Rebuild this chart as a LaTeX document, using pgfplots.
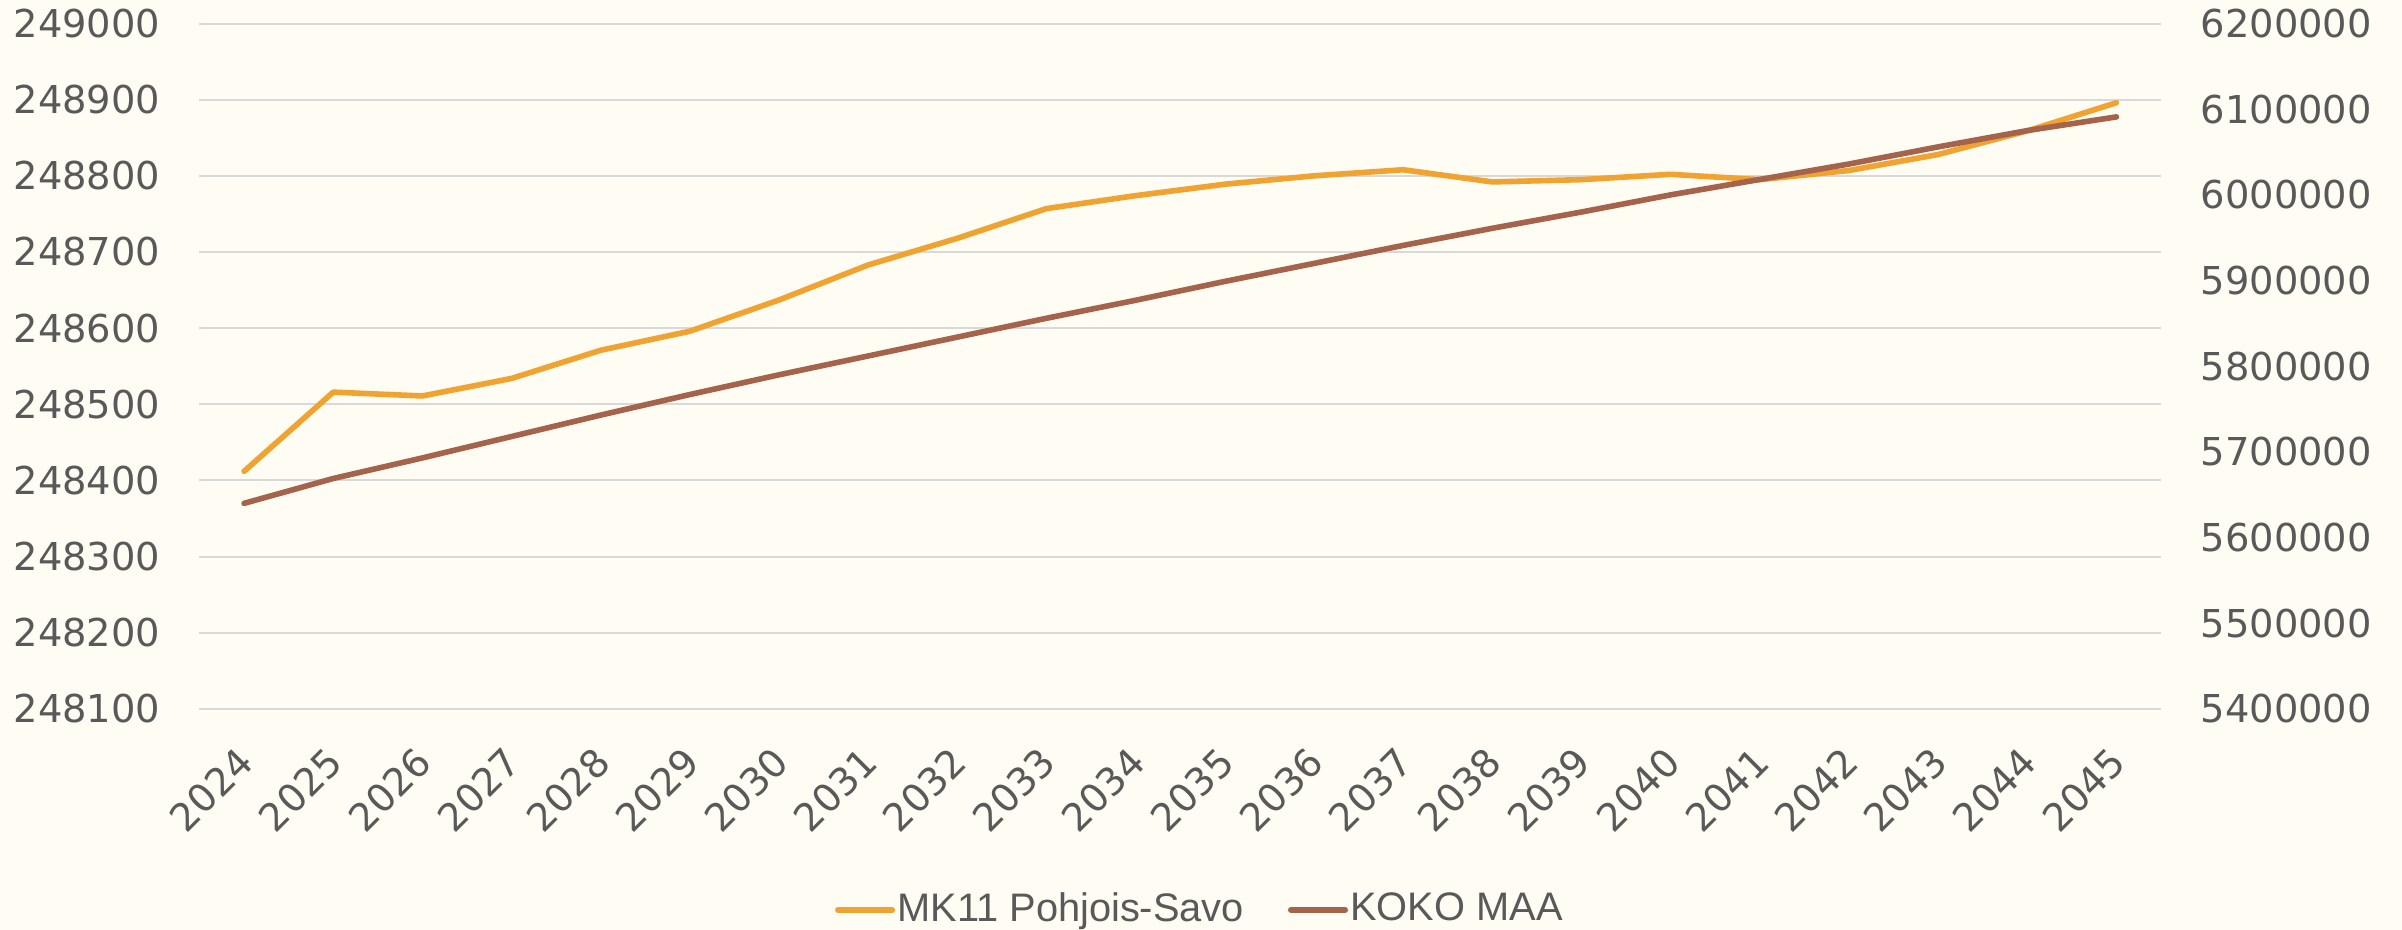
\documentclass[border=0pt]{standalone}
\usepackage{pgfplots}
\pgfplotsset{compat=1.18}
\usepackage{pgfplotstable}
\usepackage{fontspec}
\setmainfont{Liberation Sans}
\newfontfamily\tickfont{DejaVu Sans}
\definecolor{bg}{HTML}{FEFCF3}
\definecolor{orangeC}{HTML}{F0A330}
\definecolor{brownC}{HTML}{A6634B}
\definecolor{gridC}{HTML}{D9D9D9}
\definecolor{txt}{HTML}{595959}

\pgfplotstableread{
x L
0 248412
1 248516
2 248511
3 248534
4 248571
5 248596
6 248637
7 248683
8 248718
9 248757
10 248774
11 248789
12 248800
13 248808
14 248792
15 248795
16 248802
17 248795
18 248807
19 248828
20 248859
21 248896
}\orangedata

\pgfplotstableread{
x R
0 5640000
1 5669000
2 5693000
3 5718000
4 5743000
5 5767000
6 5790000
7 5812000
8 5834000
9 5856000
10 5877000
11 5899000
12 5920000
13 5941000
14 5961000
15 5980000
16 6000000
17 6018000
18 6036000
19 6056000
20 6075000
21 6091000
}\browndata

\begin{document}
\begin{tikzpicture}
\fill[bg] (0,0) rectangle (600.5pt,232.5pt);
\useasboundingbox (0,0) rectangle (600.5pt,232.5pt);
\begin{axis}[
  at={(49.875pt,55.25pt)}, anchor=south west,
  scale only axis, width=490.375pt, height=171.375pt,
  xmin=-0.5, xmax=21.5, ymin=248100, ymax=249000,
  scaled y ticks=false, scaled x ticks=false,
  axis line style={draw=none}, major tick length=0pt,
  xtick={0,1,2,3,4,5,6,7,8,9,10,11,12,13,14,15,16,17,18,19,20,21},
  xticklabels={2024,2025,2026,2027,2028,2029,2030,2031,2032,2033,2034,2035,2036,2037,2038,2039,2040,2041,2042,2043,2044,2045},
  ytick={248100,248200,248300,248400,248500,248600,248700,248800,248900,249000},
  yticklabels={248100,248200,248300,248400,248500,248600,248700,248800,248900,249000},
  ymajorgrids, grid style={gridC, line width=0.5pt},
  tick label style={font=\tickfont\fontsize{9.6}{11}\selectfont, text=txt},
  yticklabel style={anchor=east, inner sep=0pt, xshift=-9.6pt},
  xticklabel style={inner sep=0pt, xshift=0.6pt, yshift=-11.4pt, rotate=45, anchor=east},
  clip=false,
]
\addplot[orangeC, line width=1.4pt, line cap=round, line join=round] table[x=x,y=L] {\orangedata};
\end{axis}
\begin{axis}[
  at={(49.875pt,55.25pt)}, anchor=south west,
  scale only axis, width=490.375pt, height=171.375pt,
  xmin=-0.5, xmax=21.5, ymin=5400000, ymax=6200000,
  scaled y ticks=false, scaled x ticks=false,
  axis line style={draw=none}, major tick length=0pt,
  xtick=\empty,
  ytick={5400000,5500000,5600000,5700000,5800000,5900000,6000000,6100000,6200000},
  yticklabels={5400000,5500000,5600000,5700000,5800000,5900000,6000000,6100000,6200000},
  yticklabel pos=right,
  tick label style={font=\tickfont\fontsize{9.6}{11}\selectfont, text=txt},
  yticklabel style={anchor=west, inner sep=0pt, xshift=9.75pt},
  clip=false,
  legend columns=2,
  legend style={at={(0.5095,-0.2932)}, anchor=center, draw=none, fill=none,
    font=\fontsize{9.95}{11}\selectfont, text=txt, inner sep=0pt,
    nodes={inner sep=0pt},
    /tikz/every even column/.append style={column sep=11pt},
    /tikz/every odd column/.append style={column sep=0.6pt}},
  legend image code/.code={\draw[#1, line cap=round] (0.7pt,0pt) -- (14.3pt,0pt);},
]
\addlegendimage{orangeC, line width=1.4pt}
\addlegendentry{MK11 Pohjois-Savo}
\addplot[brownC, line width=1.4pt, line cap=round, line join=round] table[x=x,y=R] {\browndata};
\addlegendentry{KOKO MAA}
\end{axis}
\end{tikzpicture}
\end{document}
